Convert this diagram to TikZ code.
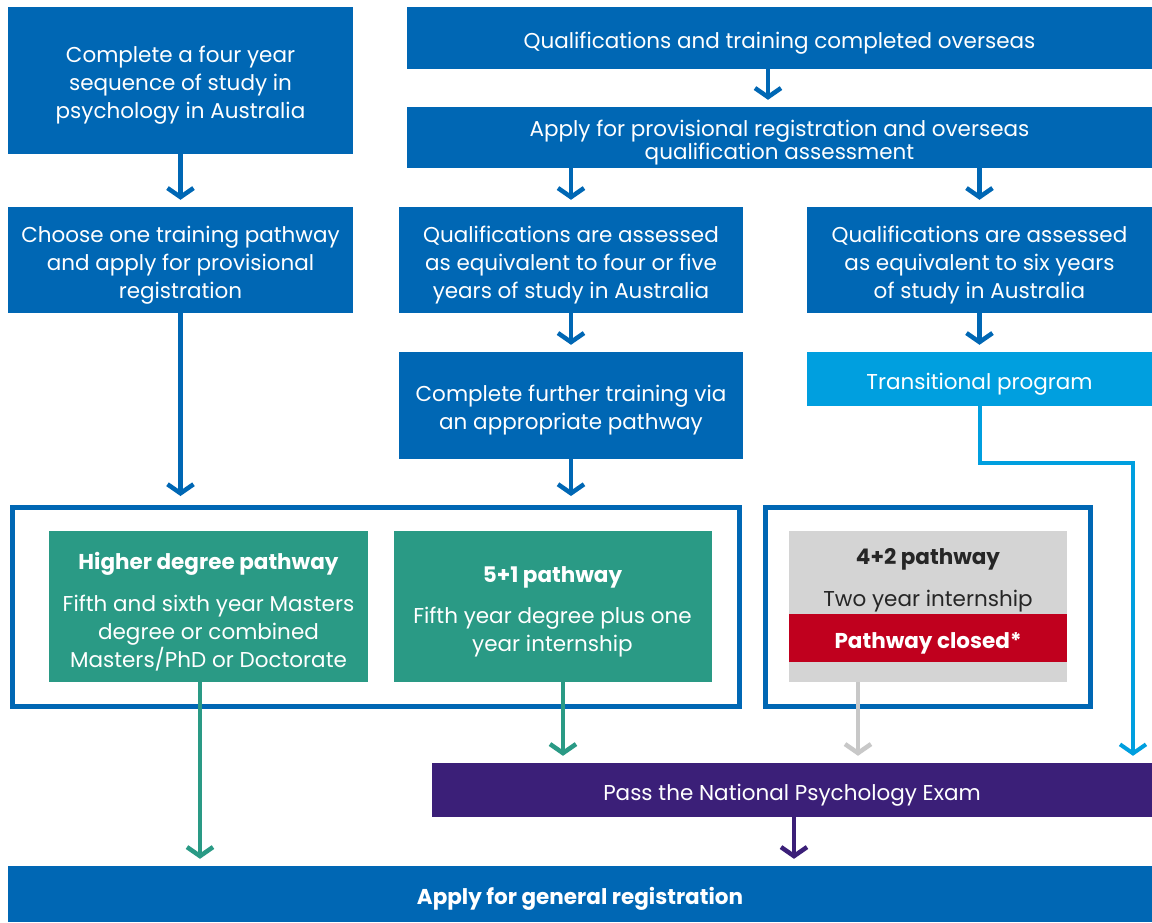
\documentclass[tikz,border=0pt]{standalone}
\usepackage{fontspec}
\setmainfont{Poppins}
\usepackage{xcolor}
\usetikzlibrary{positioning, arrows.meta, calc}

\definecolor{apblue}{HTML}{0067B4}
\definecolor{aplight}{HTML}{009FDF}
\definecolor{apteal}{HTML}{2A9A85}
\definecolor{appurple}{HTML}{3B1F78}
\definecolor{apgrey}{HTML}{D4D4D4}
\definecolor{apred}{HTML}{C0001E}
\definecolor{aparrowgrey}{HTML}{C8C8C8}

\newcommand{\boxfont}{\fontsize{21.5}{28}\selectfont}

\begin{document}
\begin{tikzpicture}[x=1pt, y=-1pt,
    pathbox/.style={fill=apblue, inner sep=0pt},
    boxtext/.style={text=white, align=center, inner sep=0pt, font=\boxfont, yshift=-5pt},
    pathframe/.style={draw=apblue, line width=5pt, inner sep=0pt},
    flow/.style={line width=4.5pt, -{Straight Barb[length=9pt, width=26pt]}, shorten >=7pt}]
  \useasboundingbox (0,0) rectangle (1152,922);

  % Australian route
  \node[pathbox, minimum width=345, minimum height=147,
    label={[boxtext]center:{Complete a four year\\sequence of study in\\psychology in Australia}}] (study) at (180.5,80.5) {};
  \node[pathbox, minimum width=345, minimum height=106,
    label={[boxtext]center:{Choose one training pathway\\and apply for provisional\\registration}}] (choose) at (180.5,260) {};

  % Overseas route
  \node[pathbox, minimum width=745, minimum height=62,
    label={[boxtext]center:{Qualifications and training completed overseas}}] (overseas) at (779.5,38) {};
  \node[pathbox, minimum width=745, minimum height=61,
    label={[boxtext, font=\fontsize{21.5}{23}\selectfont]center:{Apply for provisional registration and overseas\\qualification assessment}}] (applyprov) at (779.5,137.5) {};
  \node[pathbox, minimum width=344, minimum height=106,
    label={[boxtext]center:{Qualifications are assessed\\as equivalent to four or five\\years of study in Australia}}] (fourfive) at (571,260) {};
  \node[pathbox, minimum width=345, minimum height=106,
    label={[boxtext]center:{Qualifications are assessed\\as equivalent to six years\\of study in Australia}}] (six) at (979.5,260) {};
  \node[pathbox, minimum width=344, minimum height=107,
    label={[boxtext]center:{Complete further training via\\an appropriate pathway}}] (further) at (571,405.5) {};
  \node[pathbox, fill=aplight, minimum width=345, minimum height=54,
    label={[boxtext]center:{Transitional program}}] (transit) at (979.5,379) {};

  % Training pathways
  \node[pathframe, minimum width=727, minimum height=199] (mainframe) at (376,607) {};
  \node[pathframe, minimum width=325, minimum height=199] (closedframe) at (928,607) {};
  \node[pathbox, fill=apteal, minimum width=319, minimum height=151,
    label={[boxtext]center:{\textbf{Higher degree pathway}\\[14pt]Fifth and sixth year Masters\\degree or combined\\Masters/PhD or Doctorate}}] (higher) at (208.5,606.5) {};
  \node[pathbox, fill=apteal, minimum width=318, minimum height=151,
    label={[boxtext]center:{\textbf{5+1 pathway}\\[13pt]Fifth year degree plus one\\year internship}}] (fiveone) at (552.5,606.5) {};
  \node[pathbox, fill=apgrey, minimum width=278, minimum height=151] (fourtwo) at (928,606.5) {};
  \node[pathbox, fill=apred, minimum width=278, minimum height=48,
    label={[boxtext, font=\boxfont\bfseries]center:{Pathway closed*}}] (closed) at (928,638) {};
  \node[boxtext, text=black!85, font=\boxfont\bfseries] (fourtwotitle) at (928,554) {4+2 pathway};
  \node[boxtext, text=black!85] (fourtwobody) at (928,596) {Two year internship};

  % Exam and general registration
  \node[pathbox, fill=appurple, minimum width=720, minimum height=54,
    label={[boxtext]center:{Pass the National Psychology Exam}}] (exam) at (792,790) {};
  \node[pathbox, minimum width=1144, minimum height=56,
    label={[boxtext, font=\boxfont\bfseries]center:{Apply for general registration}}] (general) at (580,894) {};

  % Arrows
  \draw[flow, apblue] (study.south) -- (choose.north);
  \draw[flow, apblue] ([xshift=-11.5pt]overseas.south) -- ([xshift=-11.5pt]applyprov.north);
  \draw[flow, apblue] (applyprov.south -| fourfive.north) -- (fourfive.north);
  \draw[flow, apblue] (applyprov.south -| six.north) -- (six.north);
  \draw[flow, apblue] (fourfive.south) -- (further.north);
  \draw[flow, apblue] (six.south) -- (transit.north);
  \draw[flow, apblue, shorten >=9pt] (choose.south) -- (choose.south |- mainframe.north);
  \draw[flow, apblue, shorten >=9pt] (further.south) -- (mainframe.north -| further.south);

  \coordinate (bend) at (1133,463);
  \draw[flow, aplight, line width=4pt] (transit.south) |- (bend) -- (bend |- exam.north);
  \draw[flow, apteal] ([xshift=-8.5pt]higher.south) -- ([xshift=-8.5pt]higher.south |- general.north);
  \draw[flow, apteal] ([xshift=10.5pt]fiveone.south) -- ([xshift=10.5pt]fiveone.south |- exam.north);
  \draw[flow, aparrowgrey] ([xshift=-70pt]fourtwo.south) -- ([xshift=-70pt]fourtwo.south |- exam.north);
  \draw[flow, appurple] ([xshift=2pt]exam.south) -- ([xshift=2pt]exam.south |- general.north);
\end{tikzpicture}
\end{document}
